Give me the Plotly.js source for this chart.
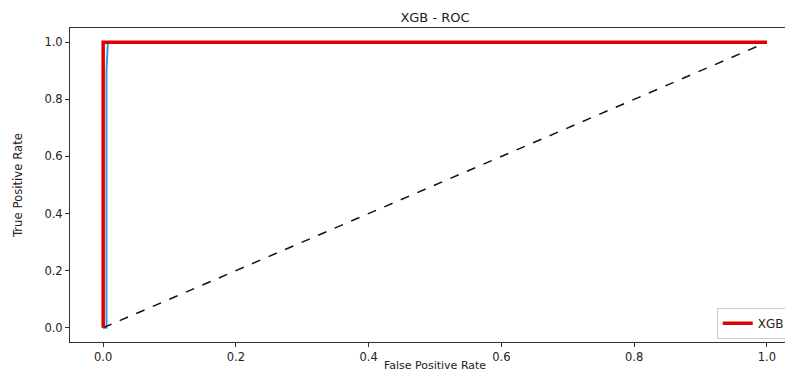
<!DOCTYPE html>
<html>
<head>
<meta charset="utf-8">
<script src="https://cdn.plot.ly/plotly-3.0.1.min.js"></script>
<style>
  html, body { margin: 0; padding: 0; overflow: hidden; background: #fff; }
  #chart { width: 830px; height: 372px; }
</style>
</head>
<body>
<div id="chart"></div>
<script>
// ROC curve points for the XGB classifier
const rocFpr = [0.0, 0.0, 1.0];
const rocTpr = [0.0, 1.0, 1.0];

// Second ROC trace (blue), drawn underneath
const rocFpr2 = [0.0, 0.005, 0.005, 0.007, 1.0];
const rocTpr2 = [0.0, 0.0, 0.9, 1.0, 1.0];

// Chance diagonal
const chanceX = [0.0, 1.0];
const chanceY = [0.0, 1.0];

const tickValues = [0.0, 0.2, 0.4, 0.6, 0.8, 1.0];
const tickLabels = ["0.0", "0.2", "0.4", "0.6", "0.8", "1.0"];

const traces = [
  {
    x: rocFpr2, y: rocTpr2, type: "scatter", mode: "lines",
    line: { color: "#3399dd", width: 2 },
    showlegend: false, hoverinfo: "skip"
  },
  {
    x: chanceX, y: chanceY, type: "scatter", mode: "lines",
    line: { color: "#111", width: 1.5, dash: "dash" },
    showlegend: false, hoverinfo: "skip"
  },
  {
    x: rocFpr, y: rocTpr, type: "scatter", mode: "lines",
    name: "XGB",
    line: { color: "#e00000", width: 3.5 }
  }
];

const axisCommon = {
  showgrid: false, zeroline: false,
  showline: true, linecolor: "#333", linewidth: 1, mirror: true,
  ticks: "outside", ticklen: 4, tickcolor: "#333", tickwidth: 1,
  tickvals: tickValues, ticktext: tickLabels,
  tickfont: { family: "DejaVu Sans", size: 11.5, color: "#222" }
};

const layout = {
  width: 830, height: 372,
  margin: { l: 70, r: 30, t: 28, b: 30 },
  paper_bgcolor: "#fff", plot_bgcolor: "#fff",
  title: {
    text: "XGB - ROC",
    font: { family: "DejaVu Sans", size: 13, color: "#222" },
    x: 0.5, xref: "paper", xanchor: "center",
    y: 1, yref: "paper", yanchor: "bottom", pad: { b: 6 }
  },
  xaxis: Object.assign({}, axisCommon, {
    range: [-0.05, 1.05],
    title: { text: "False Positive Rate", standoff: 2,
             font: { family: "DejaVu Sans", size: 11, color: "#222" } }
  }),
  yaxis: Object.assign({}, axisCommon, {
    range: [-0.05, 1.05],
    title: { text: "True Positive Rate", standoff: 18,
             font: { family: "Liberation Sans Narrow, DejaVu Sans Condensed, sans-serif", size: 13, color: "#222" } }
  }),
  legend: {
    x: 0.986, xanchor: "right", y: 0.01, yanchor: "bottom",
    bgcolor: "rgba(255,255,255,0.8)", bordercolor: "#ccc", borderwidth: 1,
    font: { family: "DejaVu Sans", size: 12, color: "#222" }
  },
  showlegend: true
};

Plotly.newPlot("chart", traces, layout, { staticPlot: true, displayModeBar: false });
</script>
</body>
</html>
